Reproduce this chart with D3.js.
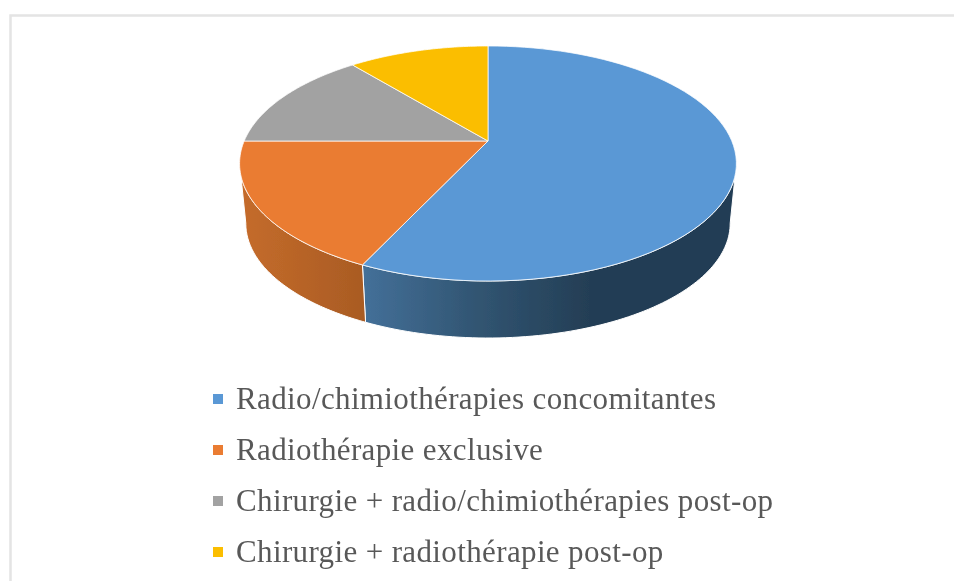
<!DOCTYPE html>
<html><head><meta charset="utf-8">
<script src="https://cdn.jsdelivr.net/npm/d3@7"></script>
<style>html,body{margin:0;padding:0;background:#fff;overflow:hidden}svg{display:block}</style>
</head><body><div id="chart"></div>
<script>
const categories = ["Radio/chimiothérapies concomitantes","Radiothérapie exclusive","Chirurgie + radio/chimiothérapies post-op","Chirurgie + radiothérapie post-op"];
const values = [57,18,14,11];
const colors = ["#5a98d5","#ea7b31","#a2a2a2","#fbbe00"];
const wallStops = [
  [[0,"#447099"],[0.5,"#315572"],[1,"#243e55"]],
  [[0,"#c56c2b"],[1,"#a95b23"]]
];

const W=954,H=581;
const svg=d3.select("#chart").append("svg").attr("width",W).attr("height",H);
const defs=svg.append("defs");
defs.append("filter").attr("id","soft").attr("x","-5%").attr("y","-5%").attr("width","110%").attr("height","110%")
  .append("feGaussianBlur").attr("stdDeviation",0.6);

// frame
svg.append("path").attr("d","M10.5,581V15.5H954").attr("fill","none").attr("stroke","#e4e4e4").attr("stroke-width",2.5);

// projection of the tilted disc
const cx=488, cy=141, A=243.8, B=113.2, k=0.1915;
const wallScale=0.975, wallCy=201.5;
function project(a,scale=1,yc=cy){
  const u=Math.sin(a), v=Math.cos(a), d=1+k*v;
  return [cx+scale*A*u/d, yc-scale*B*v/d];
}
const arcs=d3.pie().sort(null).value(d=>d)(values);
const line=d3.line();
const deg=Math.PI/180;
const rim=(a0,a1,scale,yc)=>{
  const s=d3.scaleLinear().domain([0,80]).range([a0,a1]);
  return d3.range(81).map(i=>project(s(i),scale,yc));
};
const wallFrom=101*deg, wallTo=259*deg;
const plot=svg.append("g").attr("filter","url(#soft)");

// walls: the visible slices only
[0,1].forEach(i=>{
  const a0=Math.max(arcs[i].startAngle,wallFrom), a1=Math.min(arcs[i].endAngle,wallTo);
  const top=rim(a0,a1,1,cy), bot=rim(a1,a0,wallScale,wallCy);
  const xs=top.concat(bot).map(p=>p[0]);
  const id="wall"+i;
  const g=defs.append("linearGradient").attr("id",id).attr("gradientUnits","userSpaceOnUse")
    .attr("x1",d3.min(xs)).attr("x2",i===0?590:d3.max(xs)).attr("y1",0).attr("y2",0);
  wallStops[i].forEach(s=>g.append("stop").attr("offset",s[0]).attr("stop-color",s[1]));
  plot.append("path").attr("d",line(top.concat(bot))+"Z").attr("fill",`url(#${id})`)
    .attr("stroke","#fff").attr("stroke-width",1).attr("stroke-linejoin","round");
});
// top face
arcs.forEach((d,i)=>{
  const pts=[[cx,cy]].concat(rim(d.startAngle,d.endAngle,1,cy));
  plot.append("path").attr("d",line(pts)+"Z").attr("fill",colors[i])
    .attr("stroke","#fff").attr("stroke-opacity",0.75).attr("stroke-width",1).attr("stroke-linejoin","round");
});

// legend
const legendY=d3.scalePoint().domain(categories).range([399,552]);
const legend=svg.append("g").attr("filter","url(#soft)");
categories.forEach((c,i)=>{
  legend.append("rect").attr("x",213).attr("y",legendY(c)-5).attr("width",10).attr("height",10).attr("fill",colors[i]);
  legend.append("text").attr("x",236).attr("y",legendY(c)+9.5).text(c)
    .attr("font-family","'Liberation Serif',serif").attr("font-size",31).attr("letter-spacing",0.37).attr("fill","#595959");
});
</script></body></html>
